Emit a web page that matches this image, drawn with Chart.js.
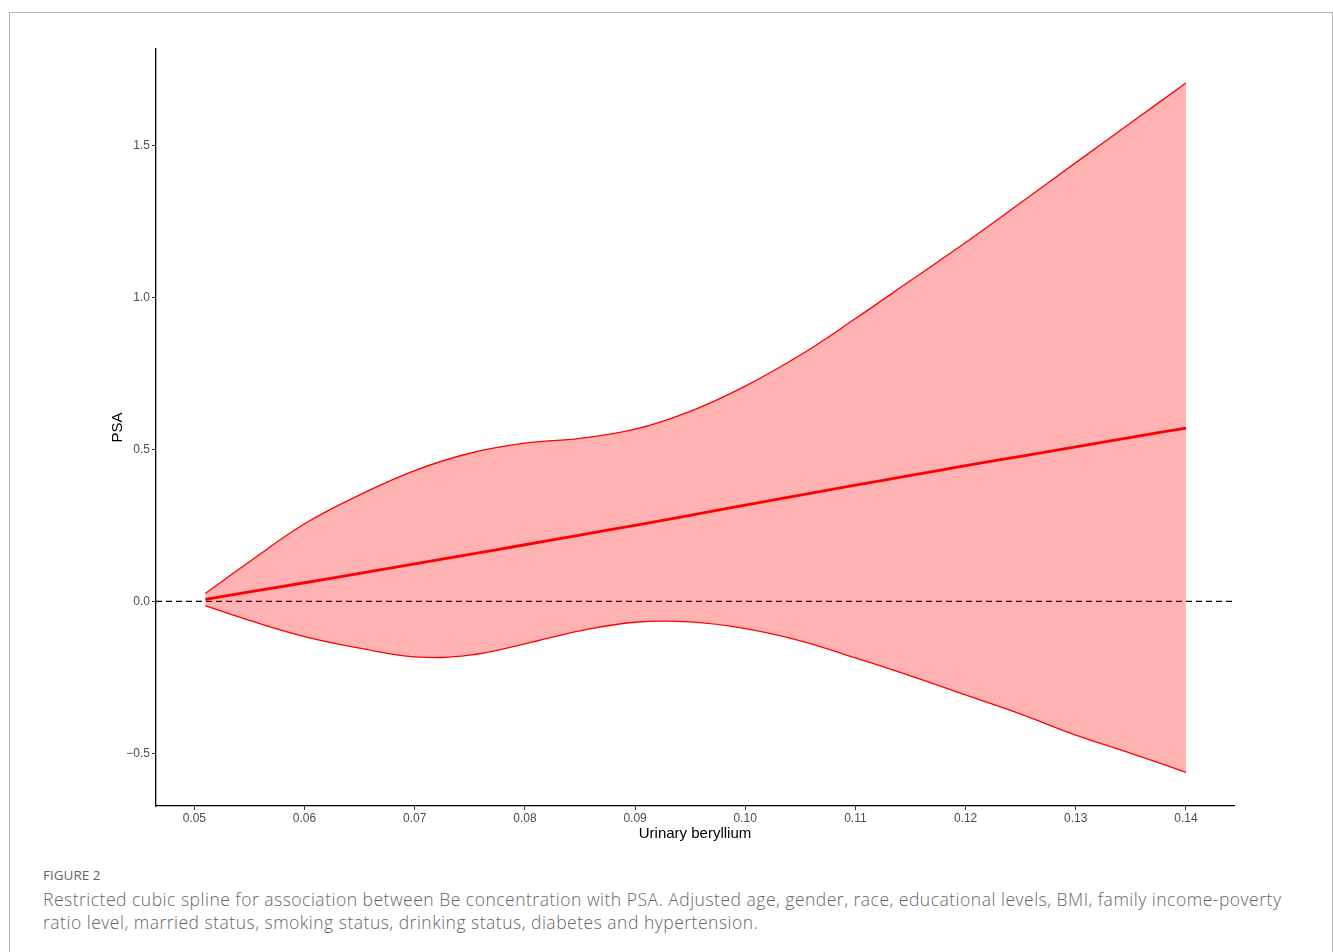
<!DOCTYPE html>
<html>
<head>
<meta charset="utf-8">
<script src="https://cdn.jsdelivr.net/npm/chart.js@4.4.1/dist/chart.umd.min.js"></script>
<style>
  body { margin: 0; background: #fff; width: 1333px; height: 952px; overflow: hidden; position: relative; }
  #frame { position: absolute; left: 9px; top: 12px; width: 1322px; height: 1000px; border: 1px solid #b3b3b3; }
  #wrap { position: absolute; left: 0; top: 0; width: 1333px; height: 850px; }
  #cap { position: absolute; left: 43px; top: 864px; color: #666; font-family: "Open Sans", sans-serif; white-space: nowrap; }
  #cap .lab { font-size: 13.5px; font-weight: 400; color: #666; line-height: 22px; }
  #cap .txt { font-size: 17.5px; font-weight: 300; line-height: 23px; color: #666; margin-top: 2px; letter-spacing: 0.5px; }
</style>
</head>
<body>
<div id="frame"></div>
<div id="wrap"><canvas id="grafico"></canvas></div>
<div id="cap">
  <div class="lab">FIGURE 2</div>
  <div class="txt">Restricted cubic spline for association between Be concentration with PSA. Adjusted age, gender, race, educational levels, BMI, family income-poverty<br>ratio level, married status, smoking status, drinking status, diabetes and hypertension.</div>
</div>
<script>
// valores
var beryllium = [0.051, 0.055, 0.06, 0.065, 0.07, 0.075, 0.08, 0.085, 0.09, 0.095, 0.10, 0.105, 0.11, 0.115, 0.12, 0.125, 0.13, 0.135, 0.14];
var psaFit   = [0.006, 0.031, 0.061, 0.092, 0.123, 0.154, 0.186, 0.218, 0.250, 0.283, 0.316, 0.349, 0.382, 0.414, 0.446, 0.477, 0.508, 0.539, 0.570];
var psaUpper = [0.026, 0.130, 0.255, 0.350, 0.430, 0.487, 0.520, 0.536, 0.566, 0.625, 0.708, 0.810, 0.930, 1.055, 1.180, 1.311, 1.443, 1.574, 1.705];
var psaLower = [-0.0145, -0.063, -0.116, -0.154, -0.183, -0.177, -0.140, -0.097, -0.069, -0.068, -0.090, -0.130, -0.186, -0.245, -0.308, -0.371, -0.440, -0.500, -0.5625];
var xTicks = [0.05, 0.06, 0.07, 0.08, 0.09, 0.10, 0.11, 0.12, 0.13, 0.14];
var yTicks = [-0.5, 0.0, 0.5, 1.0, 1.5];
var xMin = 0.04652, xMax = 0.14436;
var yMin = -0.6734, yMax = 1.8168;

function pontos(ys) {
    return beryllium.map(function(x, i) { return {x: x, y: ys[i]}; });
}

var fonteTick = {family: "'Liberation Sans', Arial, sans-serif", size: 12};
var fonteTitulo = {family: "'Liberation Sans', Arial, sans-serif", size: 15};

new Chart(document.getElementById("grafico"), {
    type: "line",
    data: {
        datasets: [{
            data: pontos(psaUpper),
            borderColor: "#ff0000",
            borderWidth: 1.3,
            backgroundColor: "rgba(255,0,0,0.3)",
            fill: "+1",
            pointRadius: 0,
            tension: 0.4
        }, {
            data: pontos(psaLower),
            borderColor: "#ff0000",
            borderWidth: 1.3,
            fill: false,
            pointRadius: 0,
            tension: 0.4
        }, {
            data: pontos(psaFit),
            borderColor: "#ff0000",
            borderWidth: 2.8,
            fill: false,
            pointRadius: 0,
            tension: 0.4
        }, {
            data: [{x: xMin, y: 0}, {x: xMax, y: 0}],
            borderColor: "#000000",
            borderWidth: 1.2,
            borderDash: [6, 4],
            fill: false,
            pointRadius: 0
        }]
    },
    options: {
        responsive: true,
        maintainAspectRatio: false,
        animation: false,
        layout: { padding: { left: 100, top: 49, right: 99, bottom: 0 } },
        plugins: { legend: { display: false }, tooltip: { enabled: false } },
        scales: {
            x: {
                type: "linear",
                min: xMin,
                max: xMax,
                afterBuildTicks: function(s) { s.ticks = xTicks.map(function(v) { return {value: v}; }); },
                afterFit: function(s) { s.height = 44; },
                ticks: {
                    font: fonteTick, color: "#4d4d4d", padding: 1, maxRotation: 0,
                    callback: function(v) { return v.toFixed(2); }
                },
                grid: { display: true, drawOnChartArea: false, drawTicks: true, tickLength: 4, color: "#333" },
                border: { display: true, color: "#000", width: 1.3 },
                title: { display: true, text: "Urinary beryllium", font: fonteTitulo, color: "#000", padding: {top: 0, bottom: 7} }
            },
            y: {
                type: "linear",
                min: yMin,
                max: yMax,
                afterBuildTicks: function(s) { s.ticks = yTicks.map(function(v) { return {value: v}; }); },
                afterFit: function(s) { s.width = 56; },
                ticks: {
                    font: fonteTick, color: "#4d4d4d", padding: 2,
                    callback: function(v) { return (v < 0 ? "\u2212" : "") + Math.abs(v).toFixed(1); }
                },
                grid: { display: true, drawOnChartArea: false, drawTicks: true, tickLength: 4, color: "#333" },
                border: { display: true, color: "#000", width: 1.3 },
                title: { display: true, text: "PSA", font: fonteTitulo, color: "#000", padding: {top: 9, bottom: 0} }
            }
        }
    }
});
</script>
</body>
</html>
